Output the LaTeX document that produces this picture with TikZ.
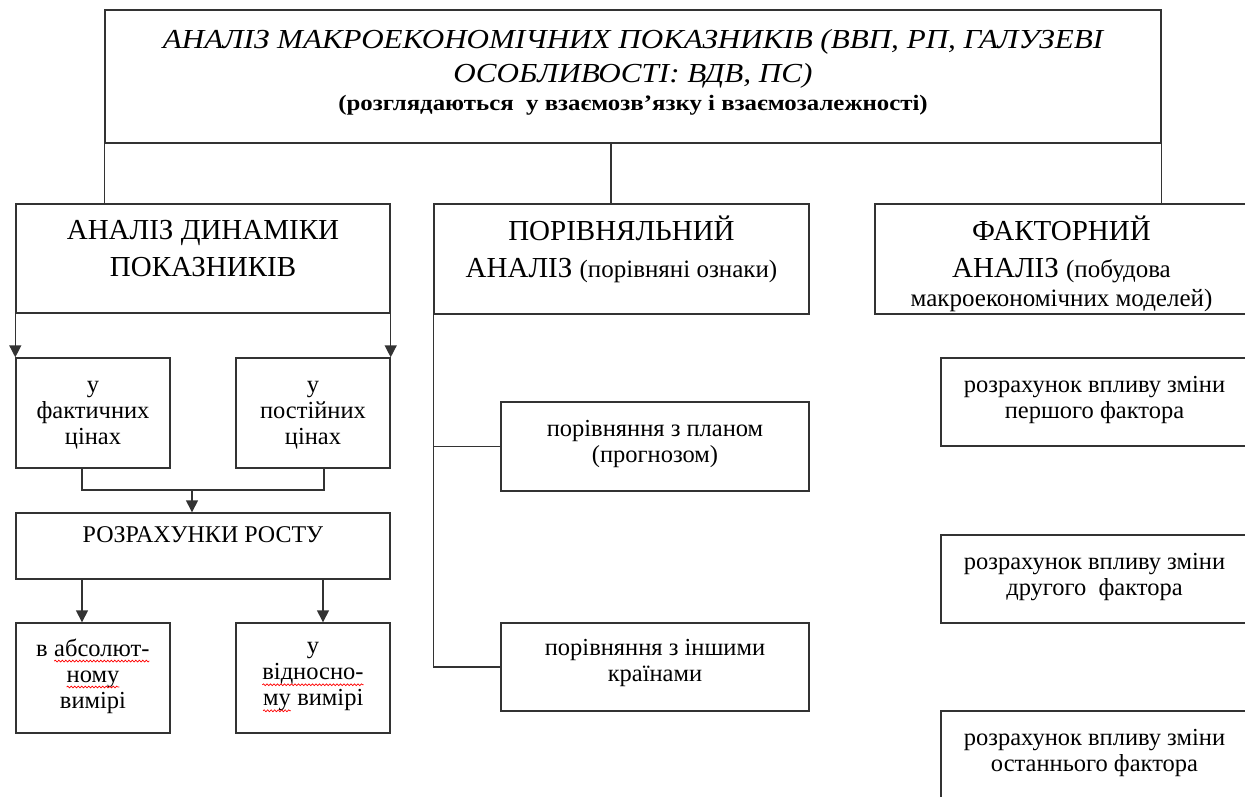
\documentclass[tikz,border=0pt]{standalone}
\usepackage{fontspec}
\setmainfont{Liberation Serif}
\usetikzlibrary{arrows.meta,positioning,decorations.pathmorphing}
\newcommand{\redwave}[1]{\tikz[baseline=(w.base),line width=0.7pt]{\node[inner sep=0pt,outer sep=0pt] (w) {#1};
  \draw[red,decorate,decoration={snake,amplitude=0.9pt,segment length=3.5pt}] ([yshift=-5pt]w.base west) -- ([yshift=-5pt]w.base east);}}

\begin{document}
\begin{tikzpicture}[x=1pt,y=-1pt,>={Triangle[width=12pt,length=12pt]},line width=1.4pt,
  box/.style={draw=black!80,inner sep=0pt},
  big/.style={inner sep=0pt,align=center,font=\fontsize{29}{37}\selectfont},
  small/.style={inner sep=0pt,align=center,font=\fontsize{24.5}{26}\selectfont}]
  \clip (0,0) rectangle (1245,796);

  \node[box,minimum width=1056,minimum height=133] (top) at (633,76.5) {};
  \node[inner sep=0pt,align=center,xscale=1.13,transform shape,font=\fontsize{27.5}{34}\selectfont\itshape,below=19pt of top.north] (toptxt)
    {АНАЛІЗ МАКРОЕКОНОМІЧНИХ ПОКАЗНИКІВ (ВВП, РП, ГАЛУЗЕВІ\\ОСОБЛИВОСТІ: ВДВ, ПС)\\[-6pt]
     {\upshape\bfseries\fontsize{22}{34}\selectfont (розглядаються~ у взаємозв’язку і взаємозалежності)}};

  \node[box,minimum width=374,minimum height=109] (dyn) at (203,258.5) {};
  \node[big,below=16pt of dyn.north] (dyntxt) {АНАЛІЗ ДИНАМІКИ\\ПОКАЗНИКІВ};
  \node[box,minimum width=375,minimum height=110] (comp) at (621.5,259) {};
  \node[big,below=12pt of comp.north] (comptxt) {ПОРІВНЯЛЬНИЙ\\АНАЛІЗ {\fontsize{25}{26}\selectfont(порівняні ознаки)}};
  \node[box,minimum width=373,minimum height=110] (factor) at (1061.5,259) {};
  \node[big,below=12pt of factor.north] (factortxt) {ФАКТОРНИЙ\\АНАЛІЗ {\fontsize{25}{26}\selectfont(побудова}\\[-8pt]
    {\fontsize{25}{26}\selectfont макроекономічних моделей)}};

  \node[box,minimum width=154,minimum height=110] (inf) at (93,413) {};
  \node[small,below=23pt of inf.north] (inftxt) {у\\фактичних\\цінах};
  \node[box,minimum width=154,minimum height=110] (const) at (313,413) {};
  \node[small,below=23pt of const.north] (consttxt) {у\\постійних\\цінах};
  \node[box,minimum width=374,minimum height=66] (grow) at (203,546) {};
  \node[inner sep=0pt,font=\fontsize{24}{30}\selectfont,below=14pt of grow.north] (growtxt) {РОЗРАХУНКИ РОСТУ};
  \node[box,minimum width=154,minimum height=110] (abs) at (93,678) {};
  \node[small,below=16pt of abs.north] (abstxt) {в \redwave{абсолют-}\\\redwave{ному}\\вимірі};
  \node[box,minimum width=154,minimum height=110] (rel) at (313,678) {};
  \node[small,below=20pt of rel.north] (reltxt) {у\\\redwave{відносно-}\\\redwave{му} вимірі};

  \node[box,minimum width=308,minimum height=89] (plan) at (655,446.5) {};
  \node[small,below=18pt of plan.north] (plantxt) {порівняння з планом\\(прогнозом)};
  \node[box,minimum width=308,minimum height=88] (other) at (655,667) {};
  \node[small,below=16pt of other.north] (othertxt) {порівняння з іншими\\країнами};

  \node[box,minimum width=307,minimum height=88] (first) at (1094.5,402) {};
  \node[small,below=18pt of first.north] (firsttxt) {розрахунок впливу зміни\\першого фактора};
  \node[box,minimum width=307,minimum height=88] (second) at (1094.5,579) {};
  \node[small,below=18pt of second.north] (secondtxt) {розрахунок впливу зміни\\другого~ фактора};
  \node[box,minimum width=307,minimum height=88] (last) at (1094.5,755) {};
  \node[small,below=18pt of last.north] (lasttxt) {розрахунок впливу зміни\\останнього фактора};

  \coordinate (mid) at (611,143);
  \draw[black!80] (top.south west) -- (top.south west |- dyn.north);
  \draw[black!80] (mid) -- (mid |- comp.north);
  \draw[black!80] (top.south east) -- (top.south east |- factor.north);

  \draw[black!80,->] (dyn.south west) -- (inf.north west);
  \draw[black!80,->] ([yshift=20pt]dyn.south east) -- (const.north east);
  \coordinate (join) at (192,490);
  \draw[black!80] ([xshift=-11pt]inf.south) |- (join) -| ([xshift=11pt]const.south);
  \draw[black!80,->] (join) -- (join |- grow.north);
  \draw[black!80,->] ([xshift=-11pt]abs.north |- grow.south) -- ([xshift=-11pt]abs.north);
  \draw[black!80,->] ([xshift=10pt]rel.north |- grow.south) -- ([xshift=10pt]rel.north);

  \draw[black!80] (comp.south west) |- (other.west);
  \draw[black!80] (comp.south west |- plan.west) -- (plan.west);
\end{tikzpicture}
\end{document}
